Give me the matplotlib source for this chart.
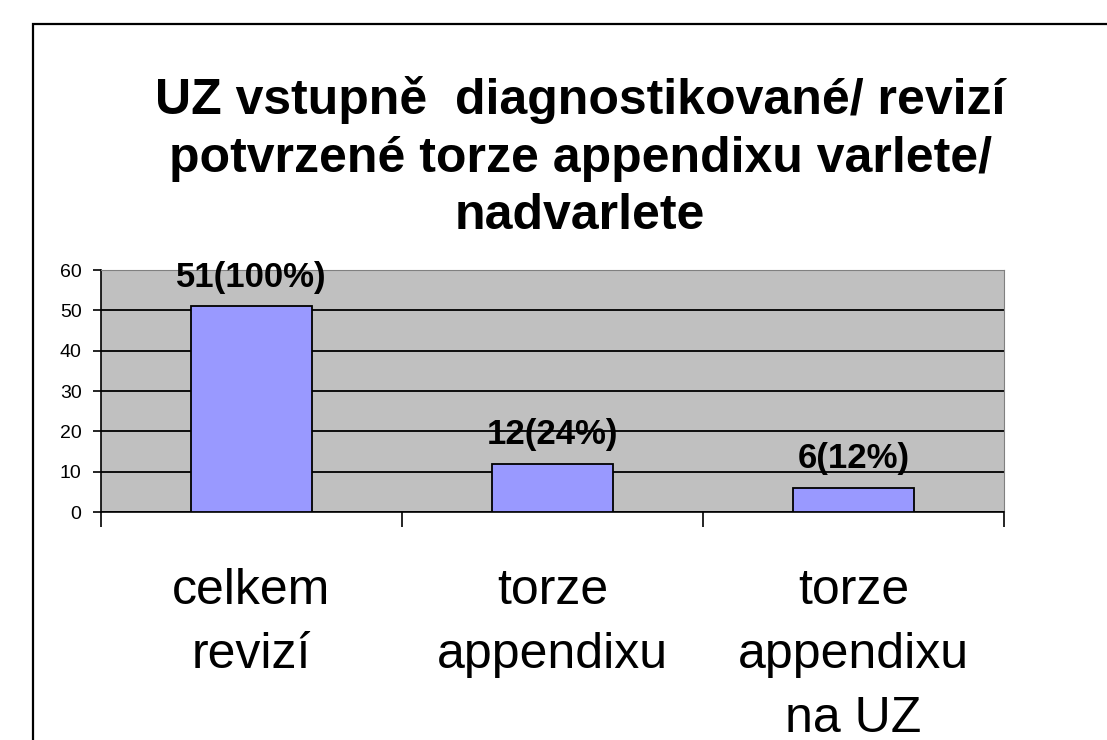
import numpy as np
import matplotlib.pyplot as plt
from matplotlib.patches import Rectangle

# data
categories = ['celkem\nrevizí', 'torze\nappendixu', 'torze\nappendixu\nna UZ']
values = [51, 12, 6]
value_labels = ['51(100%)', '12(24%)', '6(12%)']

plt.rcParams['font.family'] = ['Liberation Sans', 'DejaVu Sans']

fig = plt.figure(figsize=(11.07, 7.4), dpi=100)
ax = fig.add_axes([0.0912, 0.308, 0.8157, 0.327])

# outer frame of the chart
fig.patches.append(Rectangle((33 / 1107, -0.2), 1.0, 1.2 - 24 / 740, transform=fig.transFigure,
                             fill=False, edgecolor='black', linewidth=1.6))

fig.text(0.524, 1 - 76 / 740, 'UZ vstupně  diagnostikované/ revizí\npotvrzené torze appendixu varlete/\nnadvarlete',
         ha='center', va='top', fontsize=36, fontweight='bold', linespacing=1.32)

x = np.arange(len(values))
ax.set_facecolor('#C0C0C0')
ax.bar(x, values, width=0.4, color='#9999FF', edgecolor='black', linewidth=1.3, zorder=3)

for xi, v, lab in zip(x, values, value_labels):
    ax.annotate(lab, (xi, v), xytext=(0, 14), textcoords='offset points',
                ha='center', va='baseline', fontsize=25, fontweight='bold', zorder=4)

ax.set_xlim(-0.5, len(values) - 0.5)
ax.set_ylim(0, 60)
ax.set_yticks(np.arange(0, 61, 10))
ax.yaxis.grid(True, color='black', linewidth=1.3)
ax.set_axisbelow(True)

# category boundaries as ticks, labels in between
ax.set_xticks(np.arange(-0.5, len(values), 1.0))
ax.set_xticklabels([])
ax.set_xticks(x, minor=True)
ax.set_xticklabels(categories, minor=True, fontsize=36, linespacing=1.5)
ax.tick_params(axis='x', which='major', direction='out', length=11, width=1.2)
ax.tick_params(axis='x', which='minor', length=0, pad=40)
ax.tick_params(axis='y', direction='out', length=6, width=1.2, labelsize=14, pad=8)

for s in ['top', 'right']:
    ax.spines[s].set_color('#808080')
ax.spines['left'].set_linewidth(1.2)
ax.spines['bottom'].set_linewidth(1.2)

fig.savefig('out.png', dpi=100)
